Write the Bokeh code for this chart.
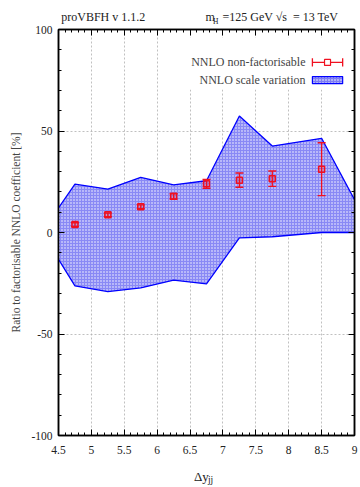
from bokeh.plotting import figure
from bokeh.models import ColumnDataSource, Label, LinearAxis, FixedTicker, Range1d
from bokeh.embed import file_html
from bokeh.resources import INLINE

# Scale-variation band edges (ratio in %)
band_x = [4.5, 4.75, 5.25, 5.75, 6.25, 6.75, 7.25, 7.75, 8.5, 9.0]
band_upper = [12.1, 23.8, 21.4, 27.1, 23.5, 25.5, 57.4, 42.6, 46.4, 16.2]
band_lower = [-13.2, -26.3, -29.1, -27.3, -23.5, -25.3, -2.6, -2.1, 0.0, 0.0]

# Non-factorisable NNLO points with statistical errors
pt_x = [4.75, 5.25, 5.75, 6.25, 6.75, 7.25, 7.75, 8.5]
pt_y = [3.9, 8.7, 12.7, 17.8, 24.0, 25.8, 26.5, 31.2]
pt_err = [0.9, 0.9, 0.9, 1.3, 2.2, 3.5, 3.8, 13.0]

x_ticks = [4.5, 5, 5.5, 6, 6.5, 7, 7.5, 8, 8.5, 9]
y_ticks = [-100, -50, 0, 50, 100]
x_minor = [4.5 + 0.1 * i for i in range(46)]
y_minor = [-100 + 10 * i for i in range(21)]

FONT = "Liberation Serif"
RED = "#f01020"
BLUE = "#0000ff"
BAND_FILL = "#7c7cf4"

p = figure(width=360, height=487, output_backend="svg", toolbar_location=None,
           x_range=Range1d(4.5, 9.0), y_range=Range1d(-100, 100),
           min_border_left=58, min_border_right=6, min_border_top=29,
           min_border_bottom=50)
p.outline_line_color = "black"
p.outline_line_width = 1.5
p.background_fill_color = "white"
p.border_fill_color = "white"

# grid
for g in (p.xgrid, p.ygrid):
    g.grid_line_color = "#b0b0b0"
    g.grid_line_dash = "2 2"
    g.grid_line_width = 0.8
p.xgrid.ticker = FixedTicker(ticks=x_ticks)
p.ygrid.ticker = FixedTicker(ticks=y_ticks)

# band
src_band = ColumnDataSource(dict(x=band_x, lo=band_lower, hi=band_upper))
p.varea(x="x", y1="lo", y2="hi", source=src_band, fill_color=BAND_FILL,
        fill_alpha=0.9, hatch_pattern="dot", hatch_color="white",
        hatch_scale=3, hatch_weight=0.9)
p.line(x="x", y="hi", source=src_band, line_color=BLUE, line_width=1.3)
p.line(x="x", y="lo", source=src_band, line_color=BLUE, line_width=1.3)

# points with error bars
lo = [y - e for y, e in zip(pt_y, pt_err)]
hi = [y + e for y, e in zip(pt_y, pt_err)]
src_pt = ColumnDataSource(dict(x=pt_x, y=pt_y, lo=lo, hi=hi))
p.segment(x0="x", y0="lo", x1="x", y1="hi", source=src_pt,
          line_color=RED, line_width=1.3)
p.scatter(x="x", y="lo", source=src_pt, marker="dash", size=8,
          line_color=RED, line_width=1.3)
p.scatter(x="x", y="hi", source=src_pt, marker="dash", size=8,
          line_color=RED, line_width=1.3)
p.scatter(x="x", y="y", source=src_pt, marker="square", size=6,
          line_color=RED, fill_color=RED, fill_alpha=0.2, line_width=1.5)

# key (white box, text on the left, sample on the right)
p.quad(left=[6.3], right=[8.95], bottom=[70.5], top=[96], fill_color="white",
       line_color=None)
key_x = 8.255
p.add_layout(Label(x=key_x, y=83.8, text="NNLO non-factorisable",
                   text_align="right", text_baseline="middle",
                   text_font=FONT, text_font_size="12px"))
p.add_layout(Label(x=key_x, y=75.0, text="NNLO scale variation",
                   text_align="right", text_baseline="middle",
                   text_font=FONT, text_font_size="12px"))
p.segment(x0=[8.36], y0=[83.8], x1=[8.82], y1=[83.8], line_color=RED, line_width=1.3)
p.segment(x0=[8.36, 8.82], y0=[81.8, 81.8], x1=[8.36, 8.82], y1=[85.8, 85.8],
          line_color=RED, line_width=1.3)
p.scatter(x=[8.59], y=[83.8], marker="square", size=6, line_color=RED,
          fill_color="white", line_width=1.2)
p.quad(left=[8.36], right=[8.82], bottom=[73.3], top=[76.8], fill_color=BAND_FILL,
       hatch_pattern="dot", hatch_color="white", hatch_scale=3, hatch_weight=0.9,
       line_color=BLUE, line_width=1.2)

# axes
def style_axis(ax, size="11.5px"):
    ax.axis_line_color = "black"
    ax.axis_line_width = 1.5
    ax.major_tick_in = 6
    ax.major_tick_out = 0
    ax.minor_tick_in = 3
    ax.minor_tick_out = 0
    ax.major_tick_line_color = "black"
    ax.minor_tick_line_color = "black"
    ax.major_label_text_font = FONT
    ax.major_label_text_font_size = size
    ax.major_label_text_color = "#222222"

def text_axis(ticks, texts, size, standoff):
    # an axis used only to carry free text outside the frame
    ax = LinearAxis(ticker=FixedTicker(ticks=ticks, minor_ticks=[]))
    ax.axis_line_color = None
    ax.major_tick_line_color = None
    ax.minor_tick_line_color = None
    ax.major_tick_in = 0
    ax.major_tick_out = 0
    ax.major_label_text_font = FONT
    ax.major_label_text_font_size = size
    ax.major_label_text_color = "#222222"
    ax.major_label_standoff = standoff
    ax.major_label_overrides = dict(zip(ticks, texts))
    return ax

p.xaxis.ticker = FixedTicker(ticks=x_ticks, minor_ticks=x_minor)
p.yaxis.ticker = FixedTicker(ticks=y_ticks, minor_ticks=y_minor)
style_axis(p.xaxis[0])
style_axis(p.yaxis[0])
p.yaxis.major_label_overrides = {t: str(t) for t in y_ticks}
p.xaxis.major_label_standoff = 10
p.yaxis.major_label_standoff = 6
p.yaxis.axis_label = "Ratio to factorisable NNLO coefficient [%]"
p.yaxis.axis_label_text_font = FONT
p.yaxis.axis_label_text_font_style = "normal"
p.yaxis.axis_label_text_font_size = "11.5px"
p.yaxis.axis_label_standoff = 6

# mirrored tick marks on the top and right edges, no labels
top_ax = LinearAxis(ticker=FixedTicker(ticks=x_ticks, minor_ticks=x_minor))
right_ax = LinearAxis(ticker=FixedTicker(ticks=y_ticks, minor_ticks=y_minor))
for ax, ticks in ((top_ax, x_ticks), (right_ax, y_ticks)):
    style_axis(ax, "8px")
    ax.major_label_overrides = {t: "" for t in ticks}
    ax.major_label_standoff = 0
p.add_layout(top_ax, "above")
p.add_layout(right_ax, "right")

# header: subscript row first (nearer the frame), then the main row
p.add_layout(text_axis([6.891], ["H"], "7.5px", 4), "above")
p.add_layout(text_axis([5.181, 6.805, 7.874],
                       ["proVBFH v 1.1.2", "m", "=125 GeV √s\u00a0 = 13 TeV"],
                       "12px", -10), "above")

# x-axis title "Δy" with subscript "jj": subscript row inner, main row pulled back up
p.add_layout(text_axis([6.812], ["jj"], "9.5px", 18), "below")
p.add_layout(text_axis([6.672], ["Δy"], "13px", -19), "below")

open("out.html", "w").write(file_html(p, INLINE))
